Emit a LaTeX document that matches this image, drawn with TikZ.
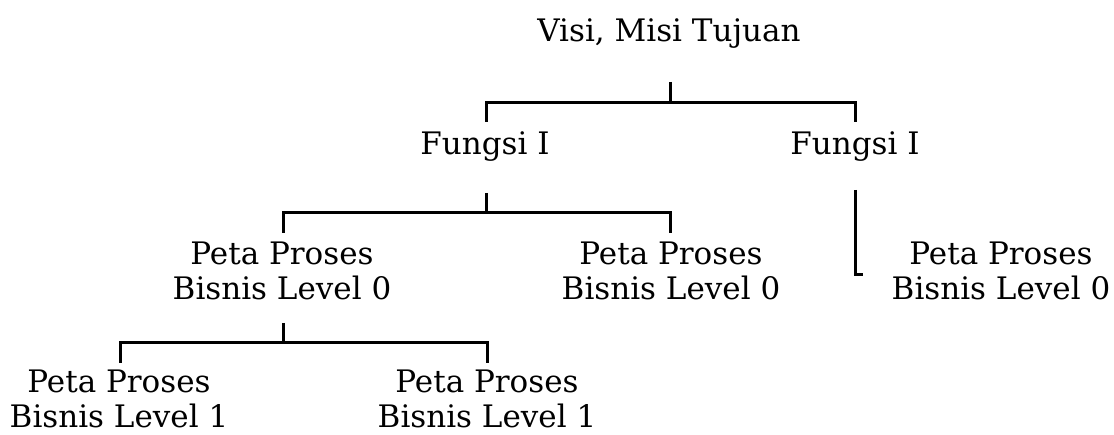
\documentclass[tikz,border=0pt]{standalone}
\usepackage{fontspec}
\setmainfont{DejaVu Serif}
\begin{document}
\begin{tikzpicture}[x=1pt,y=-1pt,
  lbl/.style={inner sep=0pt, align=center, font=\fontsize{31}{35}\selectfont, anchor=base},
  conn/.style={line width=3pt, line join=miter}]
\useasboundingbox[fill=white] (0,0) rectangle (1114,435);
% labels
\node[lbl] (visi) at (669,42) {Visi, Misi Tujuan};
\node[lbl] (f1) at (485,155) {Fungsi I};
\node[lbl] (f2) at (855,155) {Fungsi I};
\node[lbl] (p1) at (282,300) {Peta Proses\\Bisnis Level 0};
\node[lbl] (p2) at (671,300) {Peta Proses\\Bisnis Level 0};
\node[lbl] (p3) at (1001,300) {Peta Proses\\Bisnis Level 0};
\node[lbl] (q1) at (119,428) {Peta Proses\\Bisnis Level 1};
\node[lbl] (q2) at (487,428) {Peta Proses\\Bisnis Level 1};
% connector points
\coordinate (visiB) at (670,82);
\coordinate (j1) at (670,103);
\coordinate (f1T) at (486,122);
\coordinate (f2T) at (855,122);
\coordinate (f1B) at (486,193);
\coordinate (j2) at (486,213);
\coordinate (p1T) at (283,233);
\coordinate (p2T) at (670,233);
\coordinate (f2B) at (855,190);
\coordinate (p3L) at (863,275);
\coordinate (p1B) at (283,323);
\coordinate (j3) at (283,343);
\coordinate (q1T) at (120,363);
\coordinate (q2T) at (487,363);
% connectors
\draw[conn] (visiB) -- (j1);
\draw[conn] (f1T) |- (j1) -| (f2T);
\draw[conn] (f1B) -- (j2);
\draw[conn] (p1T) |- (j2) -| (p2T);
\draw[conn] (f2B) |- (p3L);
\draw[conn] (p1B) -- (j3);
\draw[conn] (q1T) |- (j3) -| (q2T);
\end{tikzpicture}
\end{document}
